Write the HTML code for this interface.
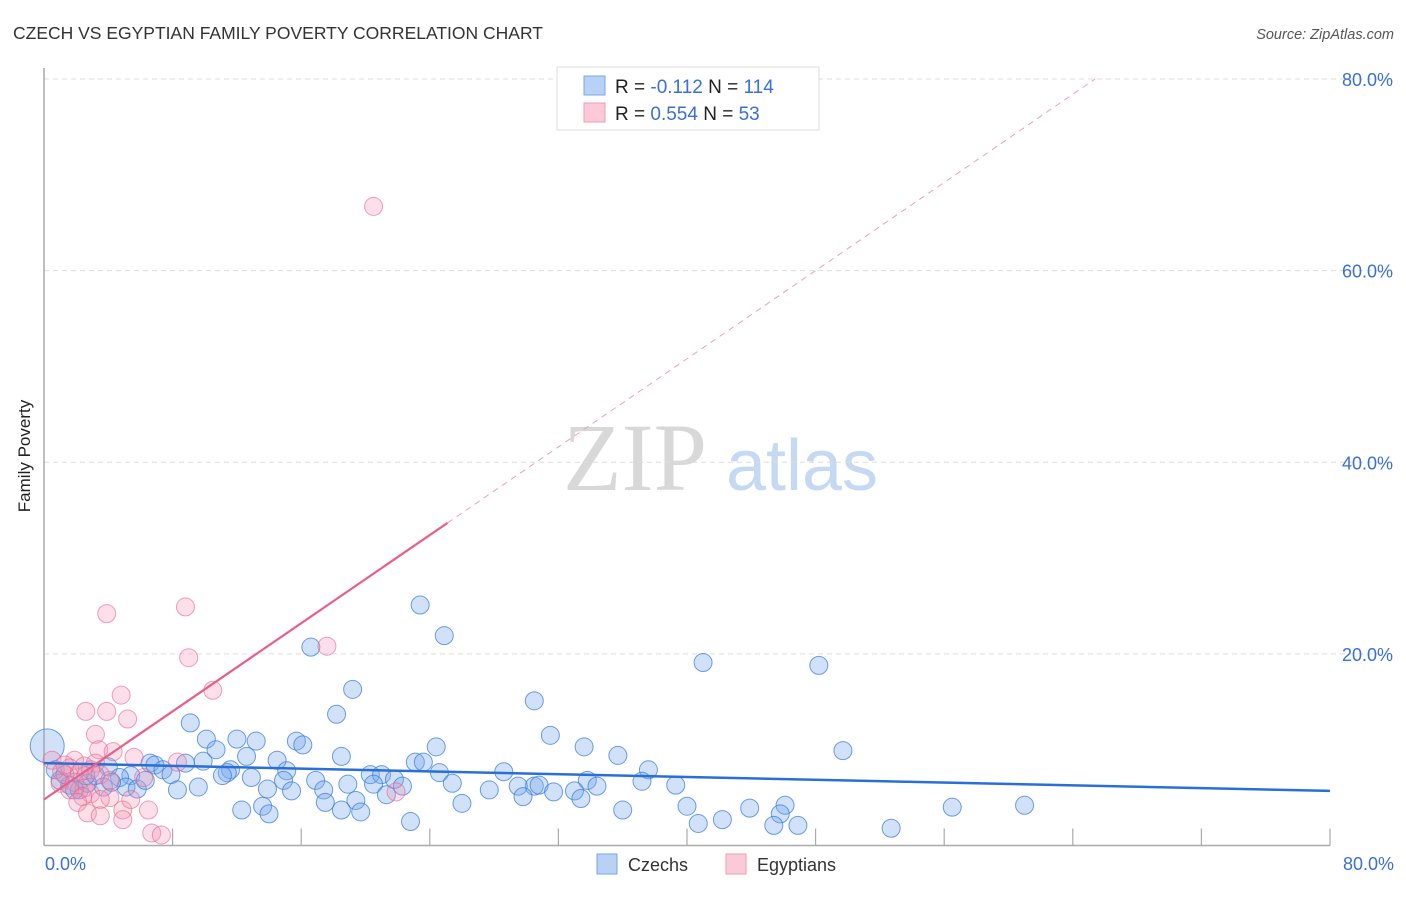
<!DOCTYPE html>
<html><head><meta charset="utf-8"><style>
body{margin:0;background:#fff;font-family:"Liberation Sans",sans-serif;}
svg text{font-family:"Liberation Sans",sans-serif;}
</style></head><body>
<svg width="1406" height="892" xmlns="http://www.w3.org/2000/svg">
<text x="13" y="39" font-size="17.5" fill="#333">CZECH VS EGYPTIAN FAMILY POVERTY CORRELATION CHART</text>
<text x="1394" y="39" font-size="14.5" fill="#555" font-style="italic" text-anchor="end">Source: ZipAtlas.com</text>
<g>
<text x="635" y="490" font-size="96" fill="#d8d8d8" font-family="Liberation Serif,serif" text-anchor="middle" style="font-family:'Liberation Serif',serif">ZIP</text>
<text x="802" y="490" font-size="72" fill="#c6d9f2" text-anchor="middle">atlas</text>
</g>
<g id="grid"></g>
<g id="axes"></g>
<g id="pts"></g>
<g id="lines"></g>
<text x="30" y="456" font-size="17" fill="#222" text-anchor="middle" transform="rotate(-90 30 456)">Family Poverty</text>
<text x="45" y="870" font-size="18" fill="#3a6fd8">0.0%</text>
<text x="1394" y="870" font-size="18" fill="#3a6fd8" text-anchor="end">80.0%</text>
<g>
<rect x="557" y="67" width="262" height="63" fill="#fff" stroke="#ddd"/>
<rect x="584" y="76" width="21" height="19" fill="#b8d2f5" stroke="#7aa7e6"/>
<rect x="584" y="103" width="21" height="19" fill="#fcc9d8" stroke="#f09ab5"/>
<text x="615" y="93" font-size="19" fill="#222">R = <tspan fill="#3a6fd8">-0.112</tspan>   N = <tspan fill="#3a6fd8">114</tspan></text>
<text x="615" y="120" font-size="19" fill="#222">R = <tspan fill="#3a6fd8">0.554</tspan>   N =  <tspan fill="#3a6fd8">53</tspan></text>
</g>
<g>
<rect x="597" y="854" width="20" height="20" fill="#b8d2f5" stroke="#7aa7e6"/>
<text x="628" y="871" font-size="18" fill="#333">Czechs</text>
<rect x="726" y="854" width="20" height="20" fill="#fcc9d8" stroke="#f09ab5"/>
<text x="757" y="871" font-size="18" fill="#333">Egyptians</text>
</g>
</svg>
<script>
const yTicks=[20,40,60,80];
const yTickLabels=["20.0%","40.0%","60.0%","80.0%"];
const czechX=[23.4,24.9,16.6,41.0,48.2,19.2,30.5,18.2,9.1,31.5,10.1,12.0,13.2,15.7,16.1,10.7,24.4,33.6,49.7,35.7,18.5,12.6,14.5,23.1,23.6,6.6,6.9,8.8,9.9,4.0,7.4,11.6,37.6,15.1,11.4,24.6,28.6,20.3,21.0,5.4,11.1,7.9,3.2,4.7,12.9,16.9,21.8,33.8,14.9,37.2,39.3,25.4,20.5,18.9,22.3,30.5,34.4,29.5,30.8,5.1,3.7,8.3,9.6,13.9,15.4,17.4,27.7,31.7,33.0,5.8,21.3,33.4,29.8,17.5,19.4,26.0,40.0,46.1,61.0,56.5,43.9,13.6,12.3,18.5,36.0,19.7,14.0,45.8,22.8,42.2,40.7,45.4,46.9,52.7,1.0,1.6,2.2,2.7,4.2,0.7,1.3,1.9,2.6,6.3];
const czechY=[25.1,21.9,20.7,19.1,18.8,16.3,15.1,13.7,12.8,11.5,11.1,11.1,10.9,10.9,10.5,10.0,10.3,10.3,9.9,9.4,9.3,9.3,8.9,8.7,8.7,8.6,8.4,8.6,8.8,8.2,7.9,7.9,7.9,7.8,7.6,7.6,7.7,7.4,7.4,7.3,7.3,7.4,7.3,7.1,7.1,6.8,6.9,6.8,6.8,6.7,6.3,6.5,6.4,6.4,6.2,6.2,6.2,6.2,6.3,6.1,6.1,5.8,6.1,5.9,5.7,5.8,5.8,5.6,5.7,5.9,5.3,4.9,5.1,4.5,4.7,4.4,4.1,4.2,4.2,4.0,3.9,4.1,3.7,3.7,3.7,3.5,3.3,3.3,2.5,2.7,2.3,2.1,2.1,1.8,6.8,6.3,5.8,6.5,6.6,7.9,7.4,5.8,7.3,6.8];
const egyX=[20.5,8.8,3.9,9.0,17.6,10.5,4.8,2.6,3.9,5.2,3.2,3.4,4.3,5.6,8.3,1.9,3.2,2.5,0.5,1.1,1.6,2.2,2.9,3.5,4.1,1.0,1.9,2.5,2.9,1.6,4.1,3.5,2.4,2.1,4.9,6.5,2.7,3.5,4.9,6.7,7.3,21.9,6.2,5.4,1.3];
const egyY=[66.7,24.9,24.2,19.6,20.8,16.2,15.7,14.0,14.0,13.2,11.6,10.0,9.8,9.2,8.7,8.9,8.6,8.3,8.9,7.7,8.1,7.6,7.9,7.4,6.8,6.5,6.6,6.0,5.4,5.8,5.0,4.8,5.1,4.5,3.7,3.7,3.4,3.1,2.7,1.3,1.1,5.6,7.1,4.8,8.4];
const czechTrend=[8.6,5.7]; // y at x=0 and x=80
const egyTrend=[4.8,1.15]; // intercept, slope
const X0=44,X1=1330,Y0=845.5,Y80=79;
const sx=v=>X0+v*(X1-X0)/80, sy=v=>Y0-v*(Y0-Y80)/80;
const NS="http://www.w3.org/2000/svg";
function mk(t,a,p){const e=document.createElementNS(NS,t);for(const k in a)e.setAttribute(k,a[k]);p.appendChild(e);return e;}
const grid=document.getElementById('grid');
yTicks.forEach((t,i)=>{
 const l=mk('line',{x1:X0,x2:1392,y1:sy(t),y2:sy(t),stroke:'#ddd','stroke-dasharray':'5,4'},grid);
 
 
 const tx=mk('text',{x:1393,y:sy(t)+7,'font-size':18,fill:'#3a6fd8','text-anchor':'end'},grid);
 tx.textContent=yTickLabels[i];
 
 
});
const ax=document.getElementById('axes');
const ya=mk('line',{x1:X0,x2:X0,y1:68,y2:Y0,stroke:'#aaa','stroke-width':1.5},ax);


const xa=mk('line',{x1:X0,x2:X1,y1:Y0,y2:Y0,stroke:'#aaa','stroke-width':1.5},ax);


for(let i=1;i<=10;i++){const t=mk('line',{x1:sx(i*8),x2:sx(i*8),y1:Y0-17,y2:Y0,stroke:'#aaa','stroke-width':1.2},ax);
 
 }
const pts=document.getElementById('pts');
czechX.forEach((x,i)=>{const big=i===czechX.length-1&&false;
 const c=mk('circle',{cx:sx(x),cy:sy(czechY[i]),r:9,fill:'rgba(120,170,235,0.35)',stroke:'rgba(50,120,220,0.7)','stroke-width':1},pts);
 
 });
const bigc=mk('circle',{cx:sx(0.2),cy:sy(10.4),r:17,fill:'rgba(120,170,235,0.35)',stroke:'rgba(50,120,220,0.7)'},pts);


egyX.forEach((x,i)=>{
 const c=mk('circle',{cx:sx(x),cy:sy(egyY[i]),r:9,fill:'rgba(245,150,180,0.3)',stroke:'rgba(230,100,140,0.6)','stroke-width':1},pts);
 
 });
const ln=document.getElementById('lines');
const bl=mk('line',{x1:sx(0),y1:sy(czechTrend[0]),x2:sx(80),y2:sy(czechTrend[1]),stroke:'#2a6fd6','stroke-width':2.5},ln);


const xs=25.1, xe=(80-egyTrend[0])/egyTrend[1];
const pl=mk('line',{x1:sx(0),y1:sy(egyTrend[0]),x2:sx(xs),y2:sy(egyTrend[0]+egyTrend[1]*xs),stroke:'#e8608a','stroke-width':2.2},ln);


const pd=mk('line',{x1:sx(xs),y1:sy(egyTrend[0]+egyTrend[1]*xs),x2:sx(xe),y2:sy(80),stroke:'#eea0b8','stroke-width':1,'stroke-dasharray':'6,5'},ln);


</script>
</body></html>
